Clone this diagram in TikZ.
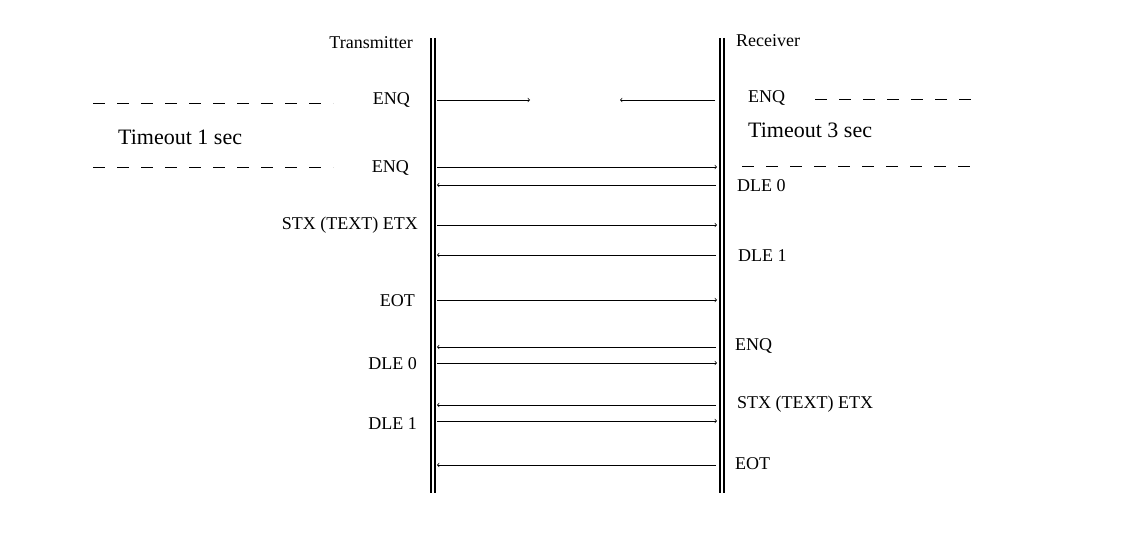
\documentclass[tikz,border=0pt]{standalone}
\usepackage{fontspec}
\setmainfont{Liberation Serif}
\usetikzlibrary{positioning}
\begin{document}
\begin{tikzpicture}[
		x=1pt, y=-1pt
		,lbl/.style={inner sep=0pt, font=\fontsize{18}{20}\selectfont}
		,big/.style={inner sep=0pt, font=\fontsize{22}{24}\selectfont}
		,msg/.style={->, line width=.7pt}
		,rail/.style={double, double distance=2pt, line width=2pt}
		,sep/.style={dash pattern=on 12pt off 12pt, line width=.7pt}
	]
		\useasboundingbox (0,0) rectangle (1127,534);
		% stations
		\coordinate (T0) at (432.5,38);
		\coordinate (T1) at (432.5,493);
		\coordinate (R0) at (721.5,38);
		\coordinate (R1) at (721.5,493);
		\draw[rail] (T0) -- (T1);
		\draw[rail] (R0) -- (R1);
		\node[lbl, anchor=east] (tx) at (413,43) {Transmitter};
		\node[lbl, anchor=west] (rx) at (736,41) {Receiver};

		% timeouts
		\coordinate (a0) at (93,103); \coordinate (a1) at (333,103);
		\coordinate (b0) at (93,167); \coordinate (b1) at (333,167);
		\coordinate (c0) at (815,99); \coordinate (c1) at (980,99);
		\coordinate (d0) at (742,166); \coordinate (d1) at (980,166);
		\draw[sep] (a0) -- (a1);
		\draw[sep] (b0) -- (b1);
		\draw[sep] (c0) -- (c1);
		\draw[sep] (d0) -- (d1);
		\node[big, anchor=west] (to1) at (118,137) {Timeout 1 sec};
		\node[big, anchor=west] (to3) at (748,130) {Timeout 3 sec};

		% messages
		\foreach \y/\a/\b in {100/437/530, 100/715/620, 167/437/717, 185/716/437,
			225/437/717, 255/716/437, 300/437/717, 347/716/437, 363/437/717,
			405/716/437, 421/437/717, 465/716/437}
		{
			\coordinate (m0) at (\a,\y);
			\coordinate (m1) at (\b,\y);
			\draw[msg] (m0) -- (m1);
		}

		% left labels
		\node[lbl, anchor=east] (l1) at (410,100) {ENQ};
		\node[lbl, anchor=east] (l2) at (409,168) {ENQ};
		\node[lbl, anchor=east] (l3) at (418,225) {STX (TEXT) ETX};
		\node[lbl, anchor=east] (l4) at (415,301) {EOT};
		\node[lbl, anchor=east] (l5) at (417,364) {DLE 0};
		\node[lbl, anchor=east] (l6) at (417,424) {DLE 1};

		% right labels
		\node[lbl, anchor=west] (r1) at (748,98) {ENQ};
		\node[lbl, anchor=west] (r2) at (737,186) {DLE 0};
		\node[lbl, anchor=west] (r3) at (738,256) {DLE 1};
		\node[lbl, anchor=west] (r4) at (735,346) {ENQ};
		\node[lbl, anchor=west] (r5) at (737,404) {STX (TEXT) ETX};
		\node[lbl, anchor=west] (r6) at (735,464) {EOT};
	\end{tikzpicture}
\end{document}
